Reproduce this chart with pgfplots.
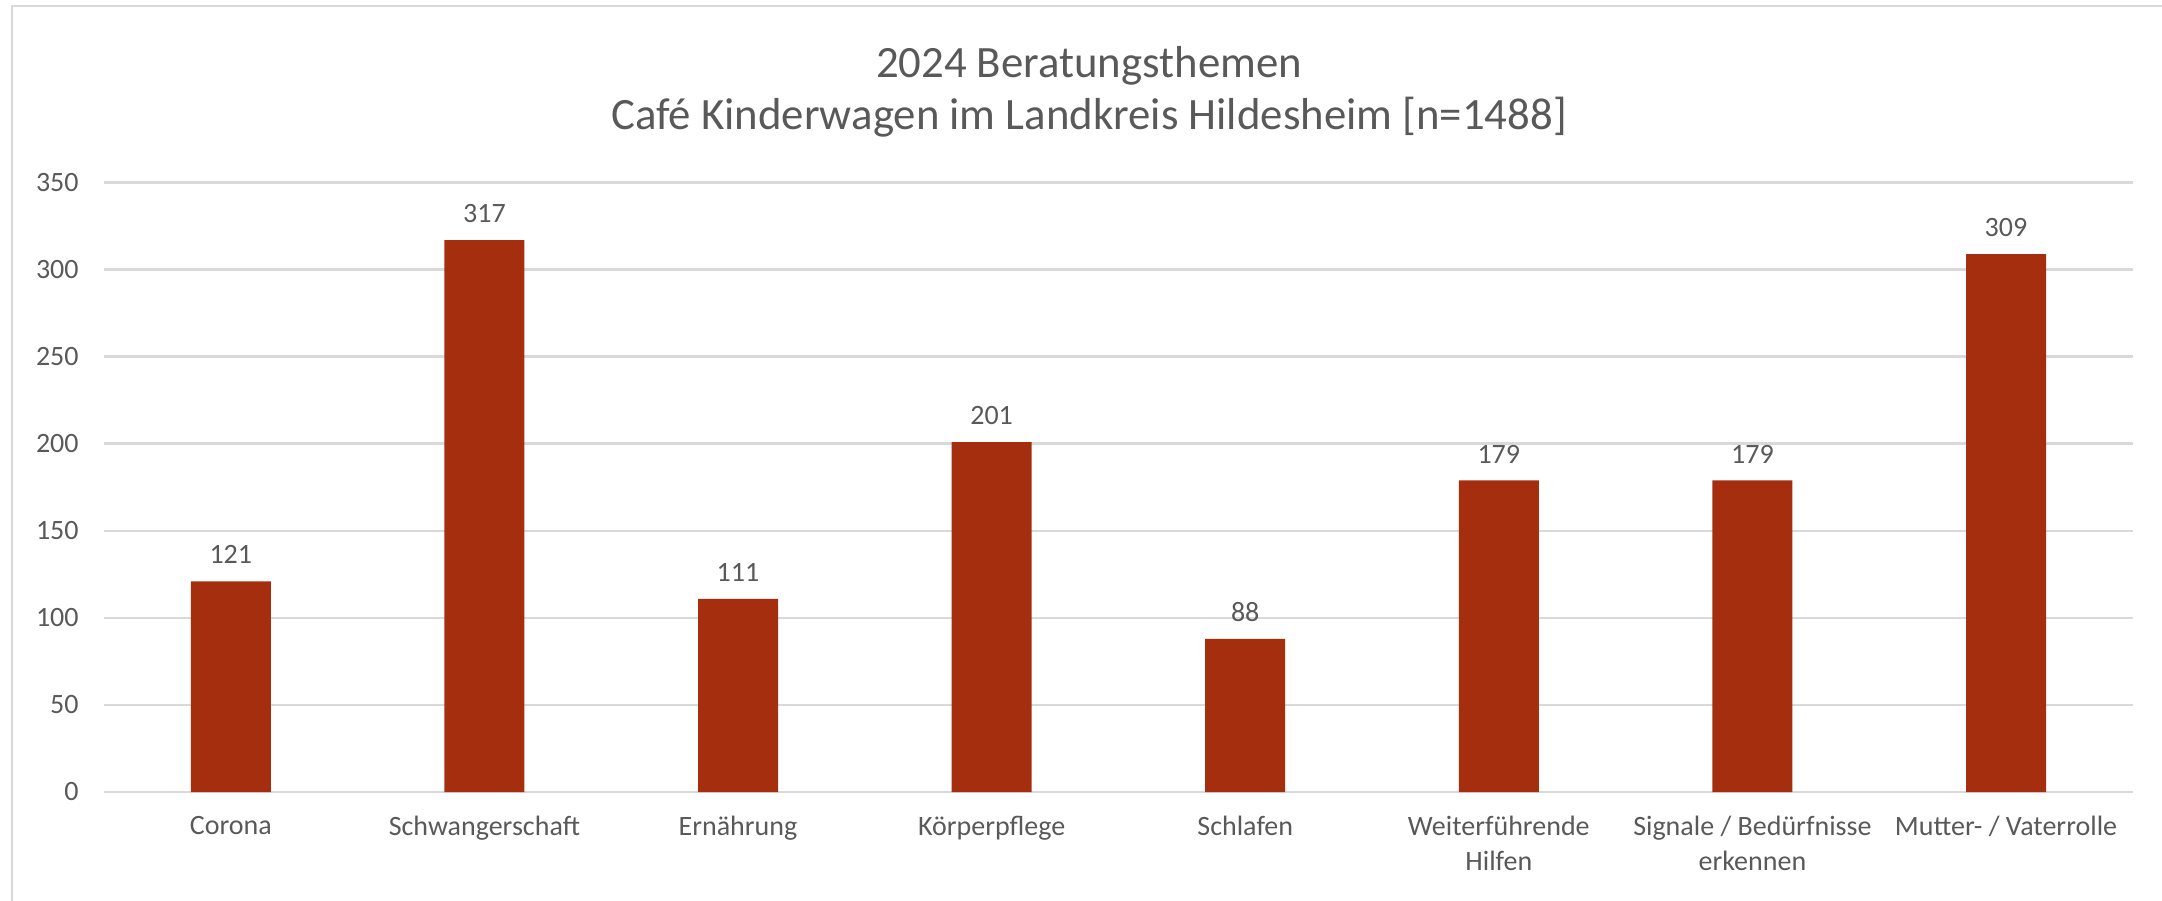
\documentclass[border=0pt]{standalone}
\usepackage{pgfplots}
\pgfplotsset{compat=1.18}
\usepackage{fontspec}
\setmainfont{Carlito}
\definecolor{barc}{HTML}{A52E0F}
\definecolor{txt}{HTML}{595959}
\definecolor{gridc}{HTML}{D9D9D9}
\begin{document}
\begin{tikzpicture}
\useasboundingbox (-52pt,-54pt) rectangle (1029pt,396pt);
\draw[gridc,line width=1.3pt] (-46pt,-60pt) -- (-46pt,393pt) -- (1035pt,393pt);
\begin{axis}[
  at={(0,0)}, anchor=south west,
  scale only axis,
  width=1014.5pt, height=304.6pt,
  xmin=-0.5, xmax=7.5, ymin=0, ymax=350,
  ytick={0,50,...,350},
  xtick={0,...,7},
  xticklabels={Corona,Schwangerschaft,Ernährung,Körperpflege,Schlafen,{Weiterführende\\Hilfen},{Signale / Bedürfnisse\\erkennen},Mutter- / Vaterrolle},
  axis line style={draw=none},
  major tick length=0pt,
  ymajorgrids,
  grid style={gridc,line width=1.4pt},
  /pgf/number format/assume math mode=true,
  tick label style={font=\fontsize{14}{17.5}\selectfont, text=txt},
  yticklabel style={anchor=east, inner sep=0pt, xshift=-12.5pt},
  xticklabel style={anchor=north, inner sep=0pt, yshift=-12pt, align=center},
  nodes near coords,
  every node near coord/.append style={font=\fontsize{14}{17}\selectfont, text=txt, anchor=south, inner sep=0pt, yshift=8.5pt},
  clip=false,
]
\addplot[ybar, bar width=40pt, fill=barc, draw=none] coordinates {
  (0,121) (1,317) (2,111) (3,201) (4,88) (5,179) (6,179) (7,309)
};
\node[anchor=base, font=\fontsize{22.4}{26}\selectfont, text=txt] at ([yshift=52.5pt]rel axis cs:0.4855,1) {2024 Beratungsthemen};
\node[anchor=base, font=\fontsize{22.4}{26}\selectfont, text=txt] at ([yshift=26.5pt]rel axis cs:0.4855,1) {Café Kinderwagen im Landkreis Hildesheim [n=1488]};
\end{axis}
\end{tikzpicture}
\end{document}
